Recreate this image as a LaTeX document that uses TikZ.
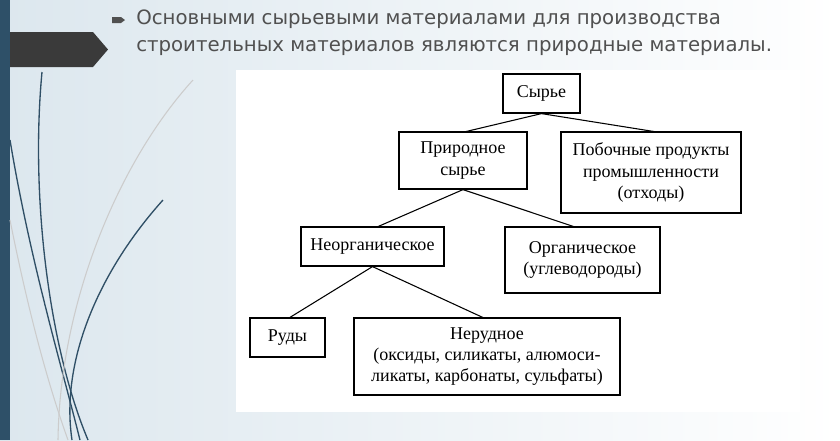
\documentclass[tikz,border=0pt]{standalone}
\usepackage{fontspec}
\setmainfont{Liberation Serif}
\newfontfamily\titlefont{DejaVu Sans}
\definecolor{barblue}{HTML}{2E5068}
\definecolor{curve}{HTML}{2F4F66}
\definecolor{arrowgray}{HTML}{3A3A3A}
\definecolor{titlegray}{HTML}{505050}
\definecolor{bgA}{HTML}{DCE7EE}
\tikzset{box/.style={draw=black,line width=0.9pt,align=center,inner sep=0pt,font=\fontsize{13.5}{16}\selectfont},
 link/.style={line width=0.8pt}}
\begin{document}
\begin{tikzpicture}[x=0.75pt,y=-0.75pt]
\useasboundingbox (0,0) rectangle (840,440);
\shade[left color=bgA,right color=white] (0,0) rectangle (840,440);
\fill[white] (236,70) rectangle (800,412);
\fill[barblue] (0,0) rectangle (10,440);
\fill[arrowgray] (10,32) -- (93,32) -- (108,49.5) -- (93,67) -- (10,67) -- cycle;
% curves
\draw[curve,line width=1pt] (42,72) .. controls (30,200) and (50,350) .. (88,440);
\draw[curve,line width=1pt] (10,140) .. controls (30,260) and (60,360) .. (80,440);
\draw[curve,line width=1pt] (163,200) .. controls (100,270) and (60,360) .. (72,440);
\draw[gray!40,line width=0.8pt] (193,80) .. controls (120,160) and (60,300) .. (58,440);
\draw[gray!40,line width=0.8pt] (10,220) .. controls (30,320) and (50,390) .. (68,440);
% title
\fill[titlegray] (112,17) rectangle (121,23) -- (121,17) -- (125,20) -- (121,23) -- cycle;
\node[anchor=west,text=titlegray,font=\titlefont\fontsize{14.8}{20}\selectfont,align=left,inner sep=0pt] (title) at (136,33)
 {Основными сырьевыми материалами для производства\\строительных материалов являются природные материалы.};
% boxes
\node[box,minimum width=77*0.75pt,minimum height=39*0.75pt] (s) at (541.5,93.5) {Сырье};
\node[box,minimum width=128*0.75pt,minimum height=57*0.75pt] (p) at (463,160.5) {Природное\\сырье};
\node[box,minimum width=180*0.75pt,minimum height=81*0.75pt] (o) at (651,172.5) {Побочные продукты\\промышленности\\(отходы)};
\node[box,minimum width=143*0.75pt,minimum height=39*0.75pt] (n) at (372.5,246.5) {Неорганическое};
\node[box,minimum width=155*0.75pt,minimum height=66*0.75pt] (org) at (582.5,260) {Органическое\\(углеводороды)};
\node[box,minimum width=75*0.75pt,minimum height=39*0.75pt] (r) at (287.5,337.5) {Руды};
\node[box,minimum width=266*0.75pt,minimum height=77*0.75pt] (nr) at (487,356.5) {Нерудное\\(оксиды, силикаты, алюмоси-\\ликаты, карбонаты, сульфаты)};
\draw[link] (s.south) -- (464,132);
\draw[link] (s.south) -- (657,132);
\draw[link] (p.south) -- (377,227);
\draw[link] (p.south) -- (575,227);
\draw[link] (n.south) -- (289,318);
\draw[link] (n.south) -- (484,318);
\end{tikzpicture}
\end{document}
